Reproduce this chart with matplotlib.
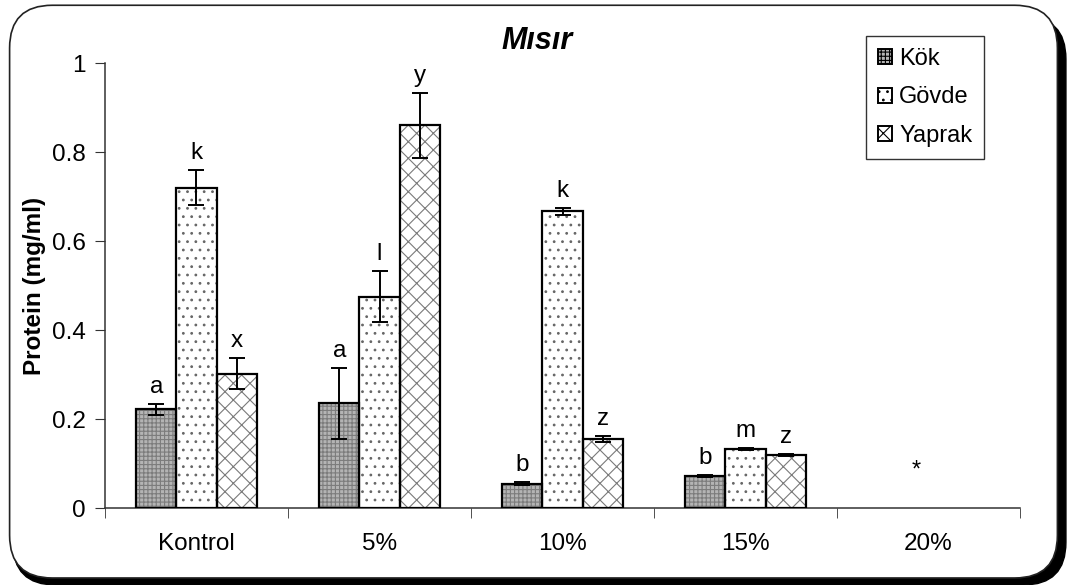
import numpy as np
import matplotlib.pyplot as plt
from matplotlib.patches import FancyBboxPatch

gruplar = ['Kontrol', '5%', '10%', '15%', '20%']
organlar = ['Kök', 'Gövde', 'Yaprak']

kok = [0.222, 0.235, 0.055, 0.072, 0]
govde = [0.720, 0.475, 0.667, 0.133, 0]
yaprak = [0.302, 0.860, 0.155, 0.120, 0]

kok_err = [0.012, 0.080, 0.004, 0.002, 0]
govde_err = [0.040, 0.057, 0.008, 0.002, 0]
yaprak_err = [0.035, 0.073, 0.007, 0.002, 0]

kok_harf = ['a', 'a', 'b', 'b', '']
govde_harf = ['k', 'l', 'k', 'm', '']
yaprak_harf = ['x', 'y', 'z', 'z', '']

plt.rcParams['font.family'] = ['Liberation Sans', 'DejaVu Sans']
plt.rcParams['hatch.linewidth'] = 0.8

fig = plt.figure(figsize=(10.67, 5.85), dpi=100)

# rounded frame with a dark shadow at the lower right
golge = FancyBboxPatch((0.012, 0.0), 0.987, 0.972, boxstyle='round,pad=0,rounding_size=0.04',
                       transform=fig.transFigure, facecolor='black', edgecolor='black',
                       mutation_aspect=1067 / 585, zorder=0)
cerceve = FancyBboxPatch((0.009, 0.012), 0.982, 0.979, boxstyle='round,pad=0,rounding_size=0.04',
                         transform=fig.transFigure, facecolor='white', edgecolor='#222222',
                         linewidth=1.2, mutation_aspect=1067 / 585, zorder=1)
fig.patches.extend([golge, cerceve])

ax = fig.add_axes([0.0984, 0.1316, 0.8576, 0.7607])
ax.set_zorder(2)
ax.patch.set_alpha(0)

x = np.arange(len(gruplar))
w = 0.219
stiller = [
    (kok, kok_err, kok_harf, '#b4b4b4', '++++', '#7c7c7c'),
    (govde, govde_err, govde_harf, 'white', '..', '#666666'),
    (yaprak, yaprak_err, yaprak_harf, 'white', 'xx', '#7a7a7a'),
]

for i, (deger, hata, harf, renk, desen, desen_renk) in enumerate(stiller):
    konum = x + (i - 1) * w
    ciz = [j for j in range(len(deger)) if deger[j] > 0]
    d = np.array(deger)[ciz]
    k = konum[ciz]
    ax.bar(k, d, w, color=renk, hatch=desen, edgecolor=desen_renk, linewidth=0, zorder=2)
    ax.bar(k, d, w, fill=False, edgecolor='black', linewidth=1.6, zorder=3,
           label=organlar[i])
    ax.errorbar(k, d, yerr=np.array(hata)[ciz], fmt='none', ecolor='black',
                elinewidth=1.4, capsize=5.5, capthick=1.4, zorder=4)
    for j in ciz:
        ax.text(konum[j], deger[j] + hata[j] + 0.025, harf[j], ha='center', va='baseline',
                fontsize=17.5)

ax.text(x[4] - 0.07, 0.085, '*', ha='center', va='center', fontsize=17)

ax.set_xlim(-0.5, 4.5)
ax.set_ylim(0, 1)
ax.set_yticks([0, 0.2, 0.4, 0.6, 0.8, 1])
ax.set_yticklabels(['0', '0.2', '0.4', '0.6', '0.8', '1'])
ax.set_xticks(x)
ax.set_xticklabels(gruplar)
ax.set_xticks(np.arange(-0.5, 5, 1), minor=True)
ax.tick_params(axis='x', which='major', length=0, pad=18, labelsize=17.5)
ax.tick_params(axis='x', which='minor', length=7, color='#333333', direction='out')
ax.tick_params(axis='y', length=7, color='#333333', labelsize=17.5, pad=7)
for s in ['top', 'right']:
    ax.spines[s].set_visible(False)
for s in ['left', 'bottom']:
    ax.spines[s].set_color('#333333')
    ax.spines[s].set_linewidth(1.1)

ax.set_ylabel('Protein (mg/ml)', fontsize=17.5, fontweight='bold', labelpad=4)
fig.text(537 / 1067, 1 - 41 / 585, 'Mısır', fontsize=22, fontweight='bold', style='italic',
         ha='center', va='center', zorder=3)

h, l = ax.get_legend_handles_labels()
leg = fig.legend(h, l, loc='upper left', bbox_to_anchor=(866 / 1067, 1 - 36 / 585),
                 borderaxespad=0, fontsize=17, frameon=True, fancybox=False,
                 edgecolor='black', handlelength=0.6, handleheight=0.6, handletextpad=0.3,
                 labelspacing=0.7, borderpad=0.5)
leg.get_frame().set_linewidth(1.0)
leg.set_zorder(5)
# legend swatches keep the fill patterns
for patch, (deger, hata, harf, renk, desen, desen_renk) in zip(leg.get_patches(), stiller):
    patch.set_facecolor(renk)
    patch.set_hatch(desen)
    patch.set_fill(True)
    patch.set_linewidth(1.4)

fig.savefig('out.png', dpi=100)
